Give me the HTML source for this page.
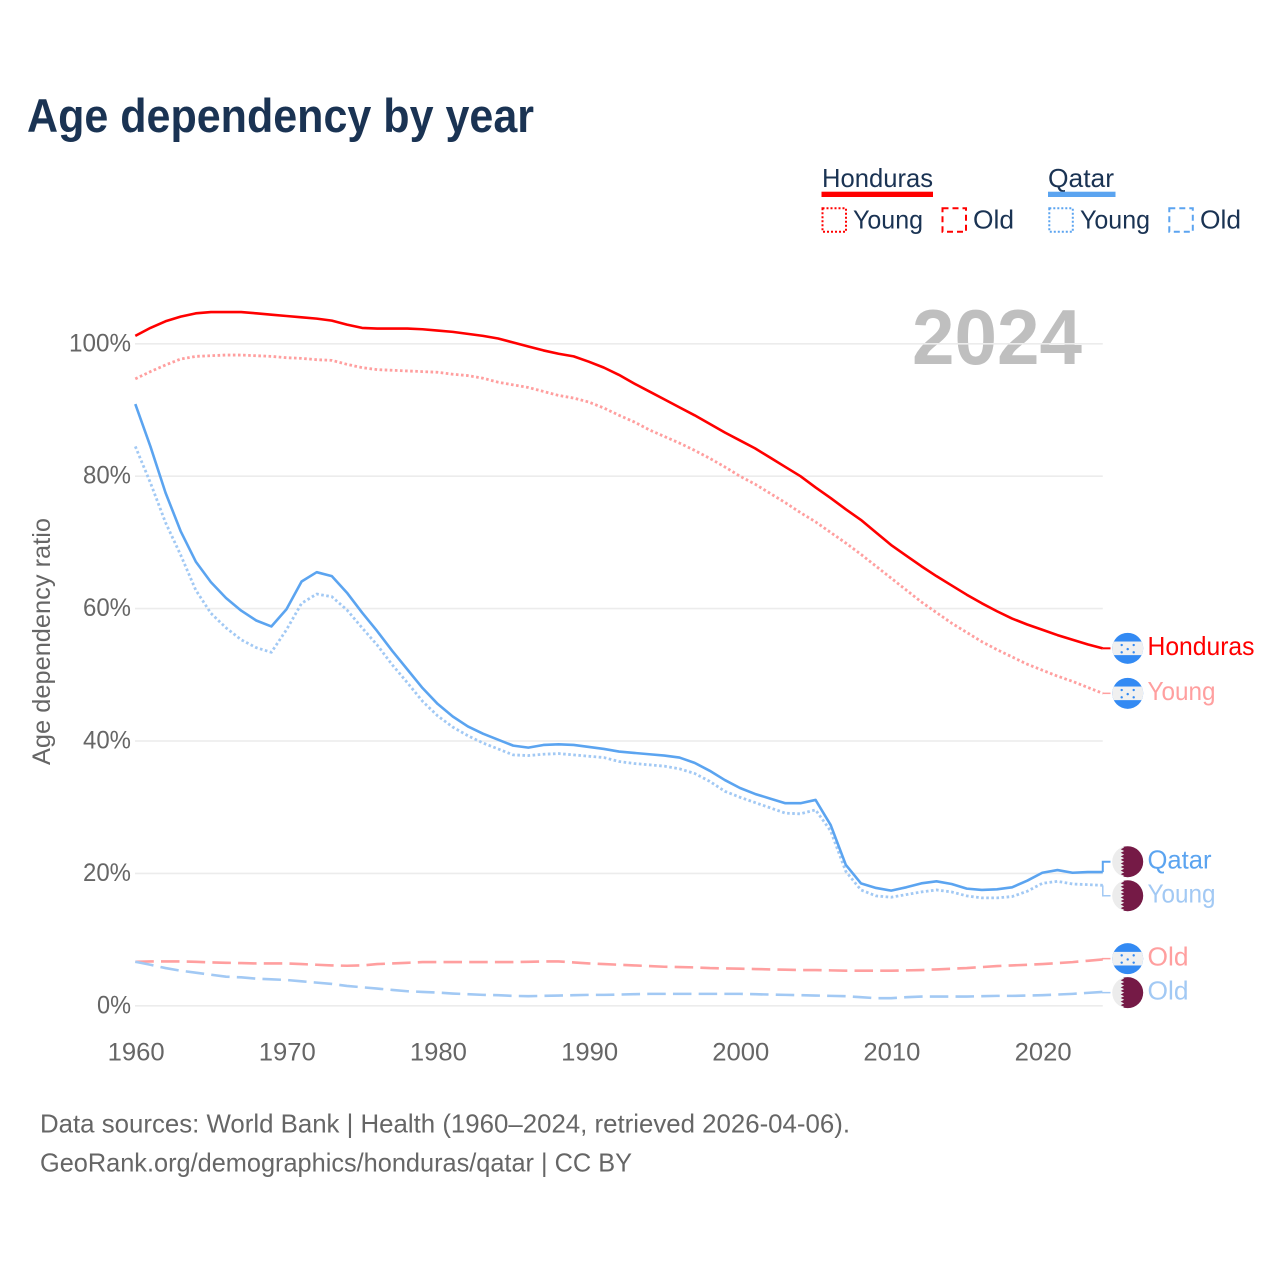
<!DOCTYPE html>
<html lang="en">
<head>
<meta charset="utf-8">
<title>Age dependency by year</title>
<style>
  html, body { margin: 0; padding: 0; background: #fff; }
  svg { display: block; font-family: "Liberation Sans", sans-serif; }
</style>
</head>
<body>
<svg id="chart" width="1280" height="1280" viewBox="0 0 1280 1280" xmlns="http://www.w3.org/2000/svg">
  <defs>
    <clipPath id="clip-flag"><circle cx="0" cy="0" r="15.5"/></clipPath>
  </defs>
  <rect width="1280" height="1280" fill="#ffffff"/>

  <text x="27" y="132" font-size="47" font-weight="700" fill="#1a3353" textLength="507" lengthAdjust="spacingAndGlyphs">Age dependency by year</text>

  <g font-size="26" fill="#1a3353">
    <text x="822" y="187" textLength="111" lengthAdjust="spacingAndGlyphs">Honduras</text>
    <rect x="821.5" y="191.7" width="111.5" height="5.3" fill="#ff0000"/>
    <text x="1048" y="187" textLength="66" lengthAdjust="spacingAndGlyphs">Qatar</text>
    <rect x="1048" y="191.7" width="67.5" height="5.3" fill="#5ba4f0"/>

    <rect x="822.5" y="208.3" width="23.5" height="23.5" fill="none" stroke="#ff0000" stroke-width="2" stroke-dasharray="2 2"/>
    <text x="853" y="228.5" textLength="70" lengthAdjust="spacingAndGlyphs">Young</text>
    <rect x="942.5" y="208.3" width="23.5" height="23.5" fill="none" stroke="#ff0000" stroke-width="2" stroke-dasharray="6 4"/>
    <text x="973" y="228.5" textLength="41" lengthAdjust="spacingAndGlyphs">Old</text>

    <rect x="1049.3" y="208.3" width="23.5" height="23.5" fill="none" stroke="#5ba4f0" stroke-width="2" stroke-dasharray="2 2"/>
    <text x="1080" y="228.5" textLength="70" lengthAdjust="spacingAndGlyphs">Young</text>
    <rect x="1169.3" y="208.3" width="23.5" height="23.5" fill="none" stroke="#5ba4f0" stroke-width="2" stroke-dasharray="6 4"/>
    <text x="1200" y="228.5" textLength="41" lengthAdjust="spacingAndGlyphs">Old</text>
  </g>

  <text x="912" y="364" font-size="78" font-weight="700" fill="#bfbfbf" textLength="170" lengthAdjust="spacingAndGlyphs">2024</text>

  <g id="grid-layer"></g>
  <g id="y-tick-layer" font-size="25" fill="#666666"></g>
  <g id="x-tick-layer" font-size="25" fill="#666666"></g>

  <text transform="translate(50,641.5) rotate(-90)" text-anchor="middle" font-size="25" fill="#666666" textLength="247" lengthAdjust="spacingAndGlyphs">Age dependency ratio</text>

  <g id="series-layer"></g>
  <g id="label-layer"></g>

  <text x="40" y="1132.5" font-size="26" fill="#666666" textLength="810" lengthAdjust="spacingAndGlyphs">Data sources: World Bank | Health (1960–2024, retrieved 2026-04-06).</text>
  <text x="40" y="1171.5" font-size="26" fill="#666666" textLength="592" lengthAdjust="spacingAndGlyphs">GeoRank.org/demographics/honduras/qatar | CC BY</text>
</svg>

<script>
const firstYear = 1960;
const xTickLabels = [1960, 1970, 1980, 1990, 2000, 2010, 2020];
const yTickLabels = [0, 20, 40, 60, 80, 100];

const hondurasTotal = [
  101.2,102.4,103.4,104.1,104.6,104.8,104.8,104.8,104.6,104.4,
  104.2,104.0,103.8,103.5,102.9,102.4,102.3,102.3,102.3,102.2,
  102.0,101.8,101.5,101.2,100.8,100.2,99.6,99.0,98.5,98.1,
  97.3,96.4,95.3,94.0,92.8,91.6,90.4,89.2,87.9,86.6,
  85.4,84.2,82.8,81.4,80.0,78.3,76.7,75.0,73.4,71.5,
  69.6,68.0,66.4,64.9,63.5,62.1,60.8,59.6,58.5,57.6,
  56.8,56.0,55.3,54.6,54.0
];
const hondurasYoung = [
  94.7,95.8,96.8,97.7,98.1,98.2,98.3,98.3,98.2,98.1,
  97.9,97.8,97.6,97.5,96.9,96.4,96.1,96.0,95.9,95.8,
  95.7,95.4,95.2,94.8,94.2,93.8,93.4,92.8,92.2,91.8,
  91.2,90.3,89.2,88.2,87.0,86.0,85.0,83.9,82.7,81.4,
  80.0,78.8,77.4,76.0,74.5,73.1,71.5,69.9,68.2,66.4,
  64.6,62.8,61.0,59.4,57.8,56.4,55.0,53.8,52.7,51.6,
  50.7,49.8,49.0,48.1,47.2
];
const hondurasOld = [
  6.65,6.7,6.7,6.7,6.65,6.55,6.5,6.45,6.4,6.4,
  6.4,6.3,6.2,6.1,6.05,6.1,6.3,6.4,6.5,6.6,
  6.6,6.6,6.6,6.6,6.6,6.6,6.65,6.7,6.7,6.55,
  6.4,6.3,6.2,6.1,6.0,5.9,5.85,5.8,5.7,5.65,
  5.6,5.55,5.5,5.45,5.4,5.4,5.35,5.3,5.3,5.3,
  5.3,5.35,5.4,5.5,5.6,5.7,5.85,6.0,6.1,6.2,
  6.3,6.45,6.6,6.8,7.0
];
const qatarTotal = [
  90.9,84.5,77.5,71.7,67.1,64.0,61.6,59.7,58.2,57.3,
  59.9,64.1,65.5,64.9,62.4,59.4,56.6,53.6,50.8,48.0,
  45.6,43.7,42.2,41.1,40.2,39.3,39.0,39.4,39.5,39.4,
  39.1,38.8,38.4,38.2,38.0,37.8,37.5,36.7,35.5,34.1,
  32.9,32.0,31.3,30.6,30.6,31.1,27.3,21.3,18.5,17.8,
  17.4,17.9,18.5,18.8,18.4,17.7,17.5,17.6,17.9,18.9,
  20.1,20.5,20.1,20.2,20.2
];
const qatarYoung = [
  84.5,79.0,73.0,68.1,62.8,59.3,57.1,55.3,54.1,53.4,
  56.8,60.8,62.2,61.8,59.8,57.1,54.5,51.5,48.8,46.0,
  43.8,42.1,40.8,39.7,38.8,37.9,37.8,38.0,38.1,37.9,
  37.7,37.5,36.9,36.6,36.4,36.2,35.8,35.1,33.9,32.4,
  31.5,30.7,29.9,29.1,29.0,29.6,26.4,20.3,17.5,16.6,
  16.4,16.8,17.2,17.5,17.2,16.6,16.3,16.3,16.5,17.3,
  18.5,18.8,18.4,18.3,18.2
];
const qatarOld = [
  6.65,6.2,5.7,5.3,5.0,4.7,4.4,4.3,4.1,4.0,
  3.9,3.7,3.5,3.3,3.0,2.8,2.6,2.4,2.2,2.1,
  2.0,1.85,1.75,1.65,1.6,1.5,1.45,1.5,1.55,1.6,
  1.65,1.65,1.7,1.75,1.8,1.8,1.8,1.8,1.8,1.8,
  1.8,1.75,1.7,1.65,1.6,1.55,1.5,1.45,1.3,1.15,
  1.15,1.3,1.4,1.4,1.4,1.4,1.45,1.5,1.5,1.55,
  1.6,1.7,1.8,1.95,2.1
];

const NS = 'http://www.w3.org/2000/svg';
function xScale(year) { return 135.3 + (year - 1960) * 15.117; }
function yScale(value) { return 1005.8 - value * 6.62; }
function make(tag, attrs, parent) {
  const el = document.createElementNS(NS, tag);
  for (const k in attrs) el.setAttribute(k, attrs[k]);
  parent.appendChild(el);
  return el;
}

const gridLayer = document.getElementById('grid-layer');
const yTickLayer = document.getElementById('y-tick-layer');
const xTickLayer = document.getElementById('x-tick-layer');
const seriesLayer = document.getElementById('series-layer');
const labelLayer = document.getElementById('label-layer');

yTickLabels.forEach(function (v) {
  const line = make('line', { x1: 135, x2: xScale(2024), y1: yScale(v), y2: yScale(v), stroke: '#ececec', 'stroke-width': 1.6 }, gridLayer);
  
  
  const t = make('text', { x: 131, y: yScale(v) + 7.5, 'text-anchor': 'end' }, yTickLayer);
  
  
  const chars = String(v).length + 1;
  t.setAttribute('textLength', chars === 4 ? 62 : chars === 3 ? 48 : 34);
  t.setAttribute('lengthAdjust', 'spacingAndGlyphs');
  t.textContent = v + '%';
});

xTickLabels.forEach(function (yr) {
  const t = make('text', { x: xScale(yr) + 0.8, y: 1060.5, 'text-anchor': 'middle', textLength: 57, lengthAdjust: 'spacingAndGlyphs' }, xTickLayer);
  
  
  t.textContent = yr;
});

const RED = '#ff0000', RED_L = '#ff9f9f', BLUE = '#5ba4f0', BLUE_L = '#a2c9f4';
const DOT = '2.6 2.5', DASH = '18.5 7.2';
const seriesList = [
  { key: 'honduras-old',   values: hondurasOld,   color: RED_L,  dash: DASH, label: 'Old',      flag: 'hn', w: 2.6, tw: 41 },
  { key: 'qatar-old',      values: qatarOld,      color: BLUE_L, dash: DASH, label: 'Old',      flag: 'qa', w: 2.6, tw: 41 },
  { key: 'honduras-young', values: hondurasYoung, color: RED_L,  dash: DOT,  label: 'Young',    flag: 'hn', w: 2.8, tw: 68 },
  { key: 'qatar-young',    values: qatarYoung,    color: BLUE_L, dash: DOT,  label: 'Young',    flag: 'qa', w: 2.8, tw: 68 },
  { key: 'qatar-total',    values: qatarTotal,    color: BLUE,   dash: null, label: 'Qatar',    flag: 'qa', w: 2.6, tw: 64 },
  { key: 'honduras-total', values: hondurasTotal, color: RED,    dash: null, label: 'Honduras', flag: 'hn', w: 2.6, tw: 107 }
];

/* spread the end labels so neighbouring flags do not collide */
const MIN_GAP = 34;
const endOrder = seriesList.map(function (s) {
  return { s: s, y: yScale(s.values[s.values.length - 1]) };
}).sort(function (a, b) { return a.y - b.y; });
endOrder.forEach(function (e) { e.ly = e.y; });
for (let i = 1; i < endOrder.length; i++) {
  const gap = endOrder[i].ly - endOrder[i - 1].ly;
  if (gap < MIN_GAP) {
    const shift = (MIN_GAP - gap) / 2;
    endOrder[i - 1].ly -= shift;
    endOrder[i].ly += shift;
  }
}

function drawFlag(kind, cx, cy, parent) {
  const g = make('g', { transform: 'translate(' + cx + ',' + cy + ')', 'clip-path': 'url(#clip-flag)' }, parent);
  if (kind === 'hn') {
    
    
    make('rect', { x: -16, y: -16, width: 32, height: 32, fill: '#338af3' }, g);
    make('rect', { x: -16, y: -6.8, width: 32, height: 13.6, fill: '#f0f0f0' }, g);
    [[-6, -3.3], [6, -3.3], [0, 0.8], [-6, 4], [6, 4]].forEach(function (p) {
      make('circle', { cx: p[0], cy: p[1], r: 1.2, fill: '#338af3' }, g);
    });
  } else {
    
    
    make('rect', { x: -16, y: -16, width: 32, height: 32, fill: '#ececec' }, g);
    let d = 'M16,-16 L-7,-16';
    for (let i = 0; i < 9; i++) {
      const top = -16 + i * 32 / 9;
      d += ' L-3.5,' + (top + 32 / 18) + ' L-7,' + (top + 32 / 9);
    }
    d += ' L16,16 Z';
    make('path', { d: d, fill: '#751a46' }, g);
  }
}

seriesList.forEach(function (s) {
  const d = s.values.map(function (v, i) {
    return (i ? 'L' : 'M') + xScale(firstYear + i).toFixed(2) + ',' + yScale(v).toFixed(2);
  }).join(' ');
  const p = make('path', { d: d, fill: 'none', stroke: s.color, 'stroke-width': s.w, 'stroke-linejoin': 'round' }, seriesLayer);
  
  
  if (s.dash) p.setAttribute('stroke-dasharray', s.dash);
});

endOrder.forEach(function (e) {
  const s = e.s;
  const xe = xScale(2024);
  const conn = make('path', {
    d: 'M' + xe + ',' + e.y + ' V' + e.ly + ' H1110.5',
    fill: 'none', stroke: s.color, 'stroke-width': s.dash ? 1.5 : 2
  }, labelLayer);
  
  
  drawFlag(s.flag, 1127.7, e.ly, labelLayer);
  const t = make('text', {
    x: 1147.5, y: e.ly + 6.7, 'font-size': 26, fill: s.color,
    textLength: s.tw, lengthAdjust: 'spacingAndGlyphs'
  }, labelLayer);
  
  
  t.textContent = s.label;
});
</script>
</body>
</html>
